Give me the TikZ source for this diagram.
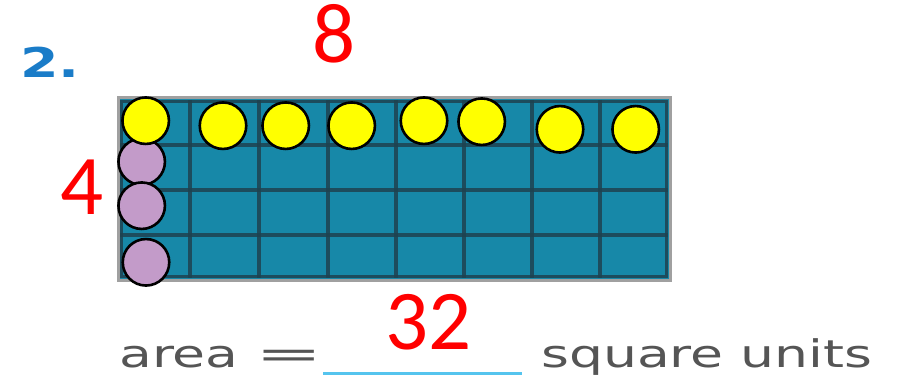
\documentclass[tikz,border=0pt]{standalone}
\usepackage{fontspec}
\usepackage{graphicx}
\setmainfont{DejaVu Sans}
\newfontfamily\numfont{Carlito}
\definecolor{cellfill}{HTML}{1788A8}
\definecolor{gridline}{HTML}{1F4250}
\definecolor{rimgray}{HTML}{A0A0A0}
\definecolor{dotyellow}{HTML}{FFFF00}
\definecolor{dotpurple}{HTML}{C39BC9}
\definecolor{txtgray}{HTML}{555555}
\definecolor{linkblue}{HTML}{55C4EE}
\definecolor{numblue}{HTML}{1A7CC8}
\tikzset{
  gline/.style={line width=4.5pt, draw=gridline, opacity=0.85},
  ydot/.style={circle, draw=black, line width=2.6pt, fill=dotyellow, minimum size=46.5pt, inner sep=0pt},
  pdot/.style={circle, draw=black, line width=2.6pt, fill=dotpurple, minimum size=46.5pt, inner sep=0pt},
  rednum/.style={text=red, font=\numfont\fontsize{85}{85}\selectfont, inner sep=0pt},
  worksheet/.style={text=txtgray, font=\fontsize{38}{38}\selectfont, inner sep=0pt, anchor=base west},
}
\begin{document}
\begin{tikzpicture}[x=1pt,y=-1pt]
\useasboundingbox (0,0) rectangle (904,377);
% grid
\fill[cellfill] (118,98) rectangle (670,280);
\foreach \gx in {190,259,328,396,464,532,600}
  \draw[gline] (\gx,100) -- (\gx,278);
\foreach \gy in {145,190,235}
  \draw[gline] (120,\gy) -- (668,\gy);
\draw[gline, line width=3.5pt] (121.5,101.5) rectangle (666.5,276.5);
\draw[rimgray, line width=3pt] (118,98) rectangle (670,280);
% purple dots
\node[pdot] (p1) at (141.7,161.7) {};
\node[pdot] (p2) at (141.7,205.7) {};
\node[pdot] (p3) at (146,262.3) {};
% yellow dots
\node[ydot] (y1) at (145.7,120.7) {};
\node[ydot] (y2) at (223,125.7) {};
\node[ydot] (y3) at (285.7,125.7) {};
\node[ydot] (y4) at (351.7,125.7) {};
\node[ydot] (y5) at (424,120.7) {};
\node[ydot] (y6) at (481.7,121.7) {};
\node[ydot] (y7) at (560,129.3) {};
\node[ydot] (y8) at (635.7,129.3) {};
% red numbers
\node[rednum] (eight) at (334,34) {8};
\node[rednum] (four) at (82,187) {4};
\node[rednum] (answer) at (428.5,322.5) {32};
% worksheet text
\node[text=numblue, font=\bfseries\fontsize{41}{41}\selectfont, inner sep=0pt, anchor=base west] (qnum) at (20,78) {\scalebox{1.35}[1]{2.}};
\node[worksheet] (area) at (119,367) {\scalebox{1.41}[1]{area \scalebox{1.5}[1]{=}}};
\node[worksheet] (units) at (541,367) {\scalebox{1.41}[1]{square units}};
\coordinate (blankL) at (323,373);
\coordinate (blankR) at (522,373);
\draw[linkblue, line width=3pt] (blankL) -- (blankR);
\end{tikzpicture}
\end{document}
